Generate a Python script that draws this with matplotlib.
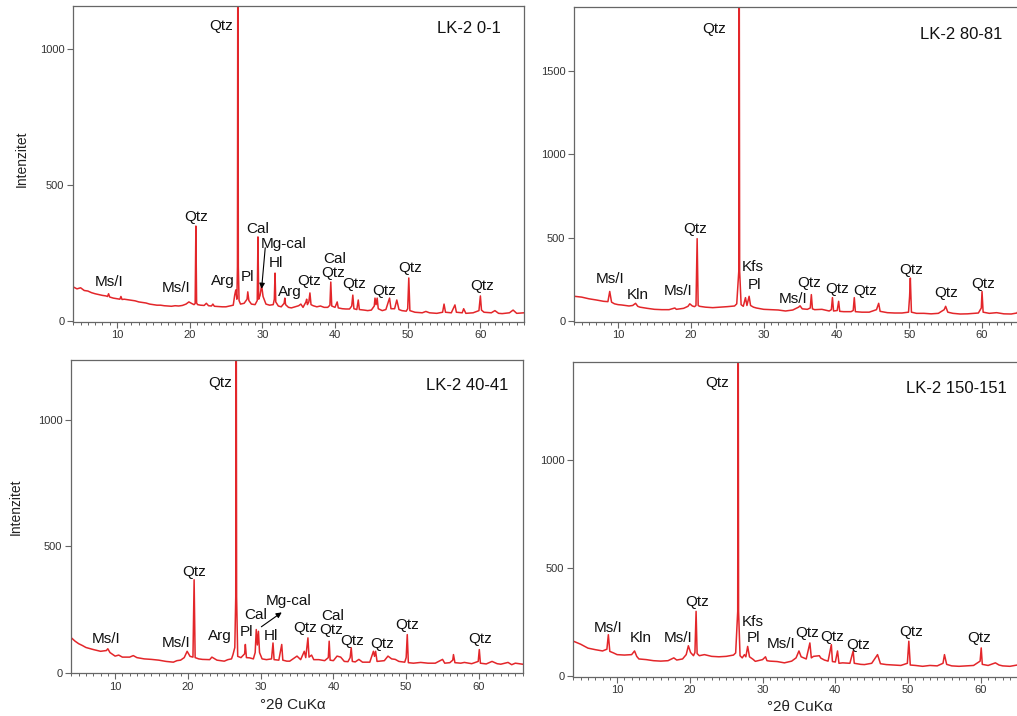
import matplotlib
matplotlib.use("Agg")
import matplotlib.pyplot as plt
from matplotlib.ticker import MultipleLocator

plt.rcParams['font.family'] = ['Liberation Sans', 'DejaVu Sans']

W, H = 1017, 716

# ---------------- data: diffractogram vertices (2theta, intensity) ----------------
a_x = [4.0, 4.5, 5.0, 5.5, 6.0, 6.5, 7.0, 7.5, 8.0, 8.5, 8.7, 8.85, 9.0, 9.5, 10.0, 10.4, 10.55, 10.7,
       11.0, 11.5, 12.0, 12.5, 13.0, 13.5, 14.0, 14.5, 15.0, 15.5, 16.0, 16.5, 17.0, 17.5, 18.0, 18.5,
       19.0, 19.5, 19.9, 20.3, 20.6, 20.76, 20.86, 20.96, 21.1, 21.5, 22.0, 22.3, 22.6, 23.0, 23.2, 23.4,
       24.0, 24.5, 25.0, 25.5, 26.0, 26.2, 26.35, 26.5, 26.58, 26.64, 26.70, 26.8, 27.0, 27.5, 27.9, 28.0,
       28.15, 28.5, 29.0, 29.3, 29.4, 29.5, 29.7, 29.9, 30.1, 30.5, 31.0, 31.5, 31.65, 31.75, 31.85, 32.2,
       32.6, 33.0, 33.1, 33.2, 33.6, 34.0, 34.5, 35.0, 35.3, 35.6, 36.0, 36.1, 36.2, 36.4, 36.55, 36.7,
       37.0, 37.5, 38.0, 38.5, 39.0, 39.3, 39.42, 39.55, 40.0, 40.3, 40.45, 41.0, 41.5, 42.0, 42.3, 42.45,
       42.6, 43.0, 43.2, 43.35, 44.0, 44.5, 45.0, 45.4, 45.5, 45.65, 45.8, 45.95, 46.5, 47.0, 47.5, 47.7,
       48.2, 48.5, 48.8, 49.2, 49.8, 50.0, 50.15, 50.3, 51.0, 52.0, 52.5, 53.0, 54.0, 54.8, 55.0, 55.2,
       56.0, 56.5, 56.7, 57.5, 57.7, 58.0, 59.0, 59.8, 60.0, 60.15, 60.5, 61.5, 62.0, 62.5, 63.0, 64.0,
       64.5, 65.0, 66.0]
a_y = [125, 118, 122, 112, 110, 104, 100, 97, 94, 92, 90, 100, 88, 84, 82, 80, 90, 79,
       80, 78, 76, 74, 70, 68, 66, 62, 60, 58, 58, 56, 55, 54, 56, 55,
       57, 62, 70, 64, 60, 64, 349, 66, 60, 58, 57, 65, 56, 55, 62, 54,
       53, 52, 52, 55, 58, 95, 114, 80, 200, 1700, 200, 75, 62, 65, 80, 107,
       75, 62, 60, 75, 309, 80, 95, 132, 90, 62, 58, 60, 80, 176, 70, 55,
       52, 65, 84, 60, 50, 48, 52, 56, 62, 50, 70, 80, 60, 70, 103, 60,
       56, 52, 55, 50, 50, 58, 143, 55, 50, 70, 48, 45, 44, 44, 55, 95,
       45, 42, 77, 42, 40, 38, 40, 55, 84, 60, 84, 45, 38, 42, 84, 45,
       45, 77, 42, 38, 36, 45, 158, 38, 32, 30, 35, 30, 28, 32, 62, 32,
       30, 59, 32, 30, 45, 28, 30, 38, 92, 40, 32, 30, 38, 28, 27, 30,
       40, 28, 30]

b_x = [4.0, 5.0, 6.0, 7.0, 8.0, 8.6, 8.85, 9.1, 9.5, 10.0, 10.5, 11.0, 11.5, 12.0, 12.4, 12.7, 13.0,
       14.0, 15.0, 16.0, 17.0, 17.8, 18.0, 19.0, 19.6, 19.85, 20.2, 20.5, 20.7, 20.86, 21.0, 21.2, 22.0,
       23.0, 24.0, 25.0, 26.0, 26.3, 26.58, 26.64, 26.70, 26.9, 27.2, 27.5, 27.7, 28.0, 28.2, 28.6, 29.0,
       30.0, 31.0, 32.0, 33.0, 34.0, 34.8, 35.0, 35.3, 36.0, 36.4, 36.55, 36.7, 37.0, 38.0, 39.0, 39.3,
       39.45, 39.6, 40.1, 40.3, 40.45, 41.0, 42.0, 42.3, 42.45, 42.6, 43.5, 44.5, 45.5, 45.8, 46.0, 47.0,
       48.0, 49.0, 49.9, 50.05, 50.15, 50.3, 51.0, 52.0, 53.0, 54.0, 54.8, 55.0, 55.3, 56.0, 57.0, 58.0,
       59.5, 59.9, 60.0, 60.15, 61.0, 62.0, 63.0, 64.0, 64.8, 65.0, 65.2, 66.0]
b_y = [150, 145, 135, 128, 120, 118, 179, 115, 105, 100, 98, 95, 92, 95, 108, 90, 85,
       78, 72, 70, 70, 80, 72, 78, 90, 105, 92, 88, 95, 495, 95, 90, 85,
       82, 85, 88, 92, 105, 300, 2300, 300, 100, 90, 142, 95, 150, 95, 85, 80,
       72, 70, 68, 62, 68, 85, 93, 75, 72, 80, 160, 75, 70, 72, 62, 70,
       142, 62, 65, 120, 60, 58, 58, 65, 142, 58, 55, 55, 70, 108, 60, 52,
       50, 50, 55, 150, 259, 55, 48, 48, 45, 48, 70, 90, 55, 48, 44, 45,
       50, 80, 179, 55, 48, 52, 45, 44, 50, 65, 45, 45]

c_x = [4.0, 4.5, 5.0, 5.5, 6.0, 7.0, 8.0, 8.8, 9.0, 9.3, 10.0, 10.5, 11.0, 12.0, 12.5, 13.0, 14.0,
       15.0, 16.0, 17.0, 18.0, 18.5, 19.0, 19.5, 19.9, 20.3, 20.7, 20.86, 21.0, 21.5, 22.0, 23.0, 23.3,
       24.0, 25.0, 25.5, 26.0, 26.2, 26.45, 26.58, 26.64, 26.70, 26.85, 27.3, 27.8, 27.9, 28.05, 28.5,
       29.0, 29.25, 29.4, 29.55, 29.7, 29.85, 30.2, 30.8, 31.5, 31.7, 31.85, 32.5, 32.9, 33.05, 33.6,
       34.0, 35.0, 35.5, 36.0, 36.2, 36.5, 36.65, 37.0, 37.3, 38.0, 38.8, 39.3, 39.42, 39.55, 40.0, 40.5,
       41.0, 41.5, 42.0, 42.3, 42.45, 42.6, 43.0, 43.5, 44.0, 45.0, 45.5, 45.65, 45.8, 46.0, 47.0, 47.5,
       48.0, 48.5, 49.0, 49.8, 50.0, 50.15, 50.3, 51.0, 52.0, 53.0, 54.0, 55.0, 55.3, 56.0, 56.4, 56.5,
       56.7, 57.5, 58.0, 59.0, 59.9, 60.05, 60.2, 61.0, 61.8, 62.5, 63.0, 64.0, 64.5, 65.0, 66.0]
c_y = [138, 125, 115, 108, 100, 92, 85, 88, 95, 80, 66, 70, 62, 62, 68, 60, 55,
       53, 50, 45, 42, 48, 50, 60, 85, 65, 62, 368, 60, 55, 53, 52, 62,
       50, 46, 52, 55, 72, 100, 300, 1800, 300, 65, 60, 75, 112, 60, 59,
       55, 80, 171, 110, 164, 80, 55, 52, 55, 118, 52, 50, 112, 50, 46,
       46, 66, 52, 85, 60, 138, 62, 70, 52, 52, 48, 60, 125, 50, 48, 66,
       62, 45, 44, 60, 99, 45, 43, 53, 42, 42, 85, 65, 85, 45, 48, 66,
       55, 53, 45, 42, 60, 151, 40, 38, 41, 38, 38, 53, 38, 40, 50, 72,
       40, 38, 41, 36, 45, 92, 38, 35, 45, 36, 34, 41, 32, 38, 34]

d_x = [4.0, 4.5, 5.0, 6.0, 7.0, 8.0, 8.6, 8.8, 9.0, 9.5, 10.0, 11.0, 12.0, 12.4, 12.7, 13.0, 14.0,
       15.0, 16.0, 17.0, 17.8, 18.2, 19.0, 19.5, 19.8, 20.1, 20.5, 20.7, 20.86, 21.0, 21.3, 22.0, 23.0,
       24.0, 25.0, 26.0, 26.3, 26.58, 26.64, 26.70, 26.9, 27.2, 27.5, 27.7, 27.95, 28.2, 28.7, 29.0,
       30.0, 30.4, 30.6, 31.0, 32.0, 33.0, 34.0, 34.6, 35.0, 35.3, 36.0, 36.5, 36.7, 37.0, 37.8, 38.0,
       38.5, 39.0, 39.45, 39.6, 40.0, 40.3, 40.5, 41.0, 42.0, 42.45, 42.6, 43.5, 44.0, 45.0, 45.8, 46.2,
       47.0, 48.0, 49.0, 49.9, 50.1, 50.3, 51.0, 52.0, 53.0, 54.0, 54.8, 55.0, 55.3, 56.0, 57.0, 58.0,
       59.0, 59.9, 60.05, 60.2, 61.0, 62.0, 62.5, 63.0, 64.0, 65.0, 66.0]
d_y = [162, 155, 148, 130, 123, 117, 125, 192, 115, 108, 100, 98, 100, 117, 92, 80, 77,
       72, 70, 72, 85, 75, 80, 100, 141, 110, 95, 110, 300, 105, 95, 100, 92,
       90, 92, 98, 108, 300, 2100, 300, 95, 85, 100, 90, 138, 90, 78, 69,
       77, 90, 72, 70, 68, 62, 70, 85, 117, 90, 80, 154, 85, 92, 95, 84,
       75, 70, 146, 68, 66, 117, 60, 62, 60, 117, 60, 55, 54, 60, 100, 58,
       54, 52, 50, 60, 162, 52, 50, 46, 50, 48, 60, 100, 55, 48, 46, 48,
       50, 70, 131, 55, 50, 62, 52, 48, 46, 52, 46]

# mineral labels: (text, x, y)
a_labels = [("Qtz", 24.4, 1070), ("Qtz", 20.9, 366), ("Ms/I", 8.9, 128), ("Ms/I", 18.2, 106),
            ("Arg", 24.55, 134), ("Pl", 27.95, 146), ("Cal", 29.4, 324), ("Mg-cal", 32.9, 269),
            ("Hl", 31.9, 198), ("Arg", 33.8, 91), ("Qtz", 36.5, 134), ("Cal", 39.9, 214),
            ("Qtz", 39.7, 162), ("Qtz", 42.65, 122), ("Qtz", 46.7, 97), ("Qtz", 50.3, 179),
            ("Qtz", 60.2, 112)]
b_labels = [("Qtz", 23.2, 1724), ("Qtz", 20.6, 528), ("Ms/I", 8.95, 229), ("Kln", 12.75, 136),
            ("Ms/I", 18.25, 155), ("Kfs", 28.55, 299), ("Pl", 28.7, 194), ("Ms/I", 34.0, 110),
            ("Qtz", 36.3, 206), ("Qtz", 40.1, 170), ("Qtz", 44.0, 155), ("Qtz", 50.25, 283),
            ("Qtz", 55.1, 143), ("Qtz", 60.15, 200)]
c_labels = [("Qtz", 24.4, 1131), ("Qtz", 20.8, 381), ("Ms/I", 8.8, 118), ("Ms/I", 18.45, 103),
            ("Arg", 24.4, 128), ("Pl", 28.0, 145), ("Cal", 29.35, 213), ("Mg-cal", 33.8, 270),
            ("Hl", 31.4, 131), ("Qtz", 36.1, 160), ("Cal", 39.85, 210), ("Qtz", 39.7, 155),
            ("Qtz", 42.6, 109), ("Qtz", 46.65, 99), ("Qtz", 50.2, 174), ("Qtz", 60.15, 116)]
d_labels = [("Qtz", 23.8, 1335), ("Qtz", 21.0, 323), ("Ms/I", 8.75, 205), ("Kln", 13.2, 157),
            ("Ms/I", 18.4, 157), ("Kfs", 28.7, 234), ("Pl", 28.7, 157), ("Ms/I", 32.5, 131),
            ("Qtz", 36.1, 182), ("Qtz", 39.5, 165), ("Qtz", 43.2, 128), ("Qtz", 50.4, 188),
            ("Qtz", 59.75, 157)]

titles = ["LK-2 0-1", "LK-2 80-81", "LK-2 40-41", "LK-2 150-151"]
title_pos = [(62.75, 1058), (62.75, 1688), (64.0, 1118), (63.6, 1308)]
ymax = [1158, 1879, 1237, 1451]
ytick_vals = [[0, 500, 1000], [0, 500, 1000, 1500], [0, 500, 1000], [0, 500, 1000]]

# axes boxes in pixels: left, top, right(x=66), bottom
boxes = [(72.6, 6.0, 524.0, 321.5), (573.7, 7.3, 1025.7, 321.7),
         (70.7, 360.0, 522.6, 673.3), (572.7, 362.3, 1024.5, 676.7)]

series = [(a_x, a_y, a_labels), (b_x, b_y, b_labels), (c_x, c_y, c_labels), (d_x, d_y, d_labels)]

fig = plt.figure(figsize=(W / 100, H / 100), dpi=100)
red = '#e3262a'
spine_c = '#666666'

axes = []
for i, (box, (xs, ys, labs)) in enumerate(zip(boxes, series)):
    l, t, r, b = box
    ax = fig.add_axes([l / W, 1 - b / H, (r - l) / W, (b - t) / H])
    axes.append(ax)
    ax.plot(xs, ys, color=red, lw=1.1, solid_joinstyle='round')
    ax.set_xlim(3.9, 66.0)
    ax.set_ylim(-2, ymax[i])
    ax.set_xticks([10, 20, 30, 40, 50, 60])
    ax.xaxis.set_minor_locator(MultipleLocator(1))
    ax.set_yticks(ytick_vals[i])
    ax.tick_params(axis='both', which='major', direction='out', length=4, width=0.8,
                   color=spine_c, labelsize=8, labelcolor='#333333', pad=2)
    ax.tick_params(axis='x', which='minor', direction='out', length=2.5, width=0.7, color=spine_c)
    ax.tick_params(top=False, right=False)
    for s in ax.spines.values():
        s.set_color(spine_c)
        s.set_linewidth(0.9)
    for txt, x, y in labs:
        ax.text(x, y, txt, ha='center', va='baseline', fontsize=11, color='#111111')
    tx, ty = title_pos[i]
    ax.text(tx, ty, titles[i], ha='right', va='baseline', fontsize=12, color='#111111')

# arrows to Mg-calcite
axes[0].annotate('', xy=(29.9, 118), xytext=(30.4, 269),
                 arrowprops=dict(arrowstyle='-|>', color='black', lw=0.8, mutation_scale=8,
                                 shrinkA=0, shrinkB=0))
axes[2].annotate('', xy=(32.9, 239), xytext=(30.1, 182),
                 arrowprops=dict(arrowstyle='-|>', color='black', lw=0.8, mutation_scale=8,
                                 shrinkA=0, shrinkB=0))

fig.text(22 / W, 1 - 159 / H, "Intenzitet", rotation=90, ha='center', va='center',
         fontsize=10, color='#222222')
fig.text(15.5 / W, 1 - 507 / H, "Intenzitet", rotation=90, ha='center', va='center',
         fontsize=10, color='#222222')
fig.text(293 / W, 1 - 705 / H, "°2θ CuKα", ha='center', va='center', fontsize=11, color='#222222')
fig.text(800 / W, 1 - 707 / H, "°2θ CuKα", ha='center', va='center', fontsize=11, color='#222222')

fig.savefig("out.png", dpi=100)
